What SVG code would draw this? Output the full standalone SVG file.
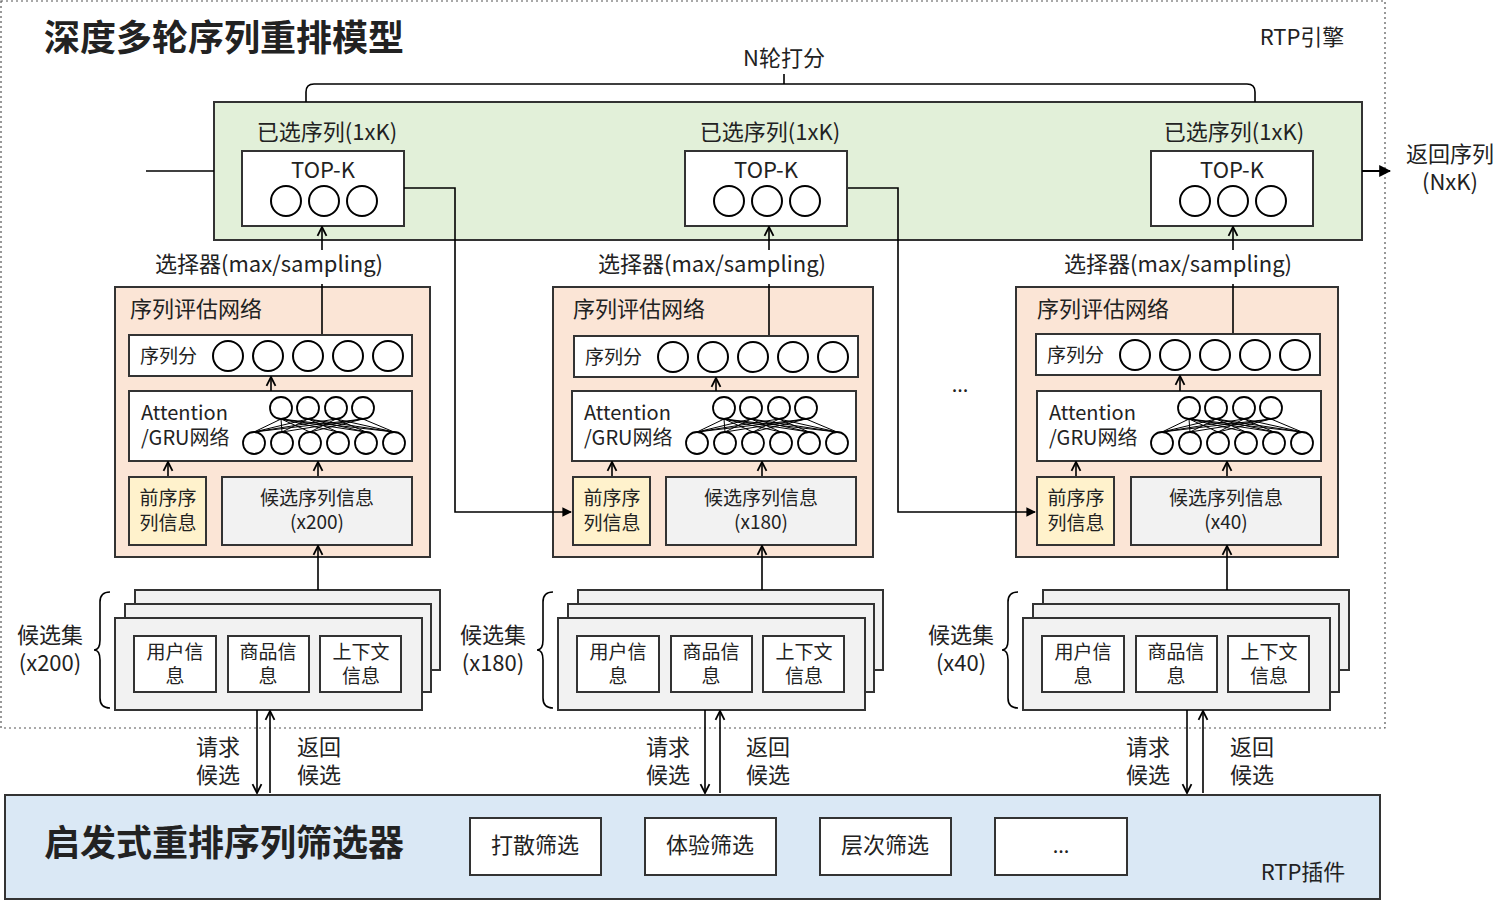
<svg xmlns="http://www.w3.org/2000/svg" width="1512" height="901" viewBox="0 0 1512 901">
<defs>
<marker id="ah" viewBox="0 0 10 10" refX="9" refY="5" markerWidth="7" markerHeight="7" orient="auto"><path d="M1,1 L9,5 L1,9" fill="none" stroke="#000" stroke-width="1.6"/></marker>
<marker id="ahf" viewBox="0 0 10 10" refX="9" refY="5" markerWidth="6" markerHeight="6" orient="auto"><path d="M0,0 L10,5 L0,10 z" fill="#000"/></marker>
</defs>
<style>
text{font-family:"Noto Sans CJK SC","Noto Sans",sans-serif;fill:#222}
.b{stroke:#333;stroke-width:2}
.c{fill:none;stroke:#000;stroke-width:2}
.cw{fill:#fff;stroke:#000;stroke-width:1.8}
.l{fill:none;stroke:#000;stroke-width:1.6}
.la{fill:none;stroke:#000;stroke-width:1.6;marker-end:url(#ah)}
.t22{font-size:22px}.t20{font-size:20px}.t19{font-size:19px}
.m{text-anchor:middle}
</style>
<rect width="1512" height="901" fill="#fff"/>
<rect x="1" y="1" width="1384" height="727" fill="none" stroke="#555" stroke-width="1.2" stroke-dasharray="2,3"/>
<text x="44" y="51" font-size="36" font-weight="bold">深度多轮序列重排模型</text>
<text x="1302" y="45" class="t22 m">RTP引擎</text>
<g id="rounds"><rect x="214" y="102" width="1148" height="138" fill="#e2f0d9" class="b"/></g>
<text x="784" y="66" class="t22 m">N轮打分</text>
<text x="1450" y="162" class="t22 m">返回序列</text>
<text x="1450" y="190" class="t22 m">(NxK)</text>
<text x="960" y="392" class="t20 m">...</text>

<g id="col1">
<g id="topk1"><text x="327" y="140" class="t22 m">已选序列(1xK)</text><rect x="242" y="151" width="162" height="75" fill="#fff" class="b"/><text x="323" y="178" class="t22 m">TOP-K</text><circle cx="286" cy="201" r="15" class="c"/><circle cx="324" cy="201" r="15" class="c"/><circle cx="362" cy="201" r="15" class="c"/></g>
<text x="269" y="272" class="t22 m">选择器(max/sampling)</text>
<g id="eval1"><rect x="115" y="287" width="315" height="270" fill="#fbe5d6" class="b"/>
<text x="130" y="317" class="t22">序列评估网络</text>
<rect x="129" y="335" width="283" height="41" fill="#fff" class="b"/><text x="140" y="363" class="t19">序列分</text>
<g class="c"><circle cx="228" cy="356" r="15"/><circle cx="268" cy="356" r="15"/><circle cx="308" cy="356" r="15"/><circle cx="348" cy="356" r="15"/><circle cx="388" cy="356" r="15"/></g>
<rect x="129" y="391" width="283" height="70" fill="#fff" class="b"/><text x="141" y="420" class="t20">Attention</text><text x="141" y="445" class="t20">/GRU网络</text>
<path stroke="#000" stroke-width="1" d="M281,419L254,432M281,419L282,432M281,419L310,432M281,419L338,432M281,419L366,432M281,419L394,432M308,419L254,432M308,419L282,432M308,419L338,432M308,419L366,432M308,419L394,432M336,419L254,432M336,419L310,432M336,419L366,432M336,419L394,432M363,419L254,432M363,419L282,432M363,419L310,432M363,419L394,432"/>
<g class="cw"><circle cx="281" cy="408" r="11"/><circle cx="308" cy="408" r="11"/><circle cx="336" cy="408" r="11"/><circle cx="363" cy="408" r="11"/><circle cx="254" cy="443" r="11"/><circle cx="282" cy="443" r="11"/><circle cx="310" cy="443" r="11"/><circle cx="338" cy="443" r="11"/><circle cx="366" cy="443" r="11"/><circle cx="394" cy="443" r="11"/></g>
<rect x="129" y="477" width="77" height="68" fill="#fff2cc" class="b"/><text x="168" y="505" class="t19 m">前序序</text><text x="168" y="530" class="t19 m">列信息</text>
<rect x="222" y="477" width="190" height="68" fill="#f2f2f2" class="b"/><text x="317" y="505" class="t19 m">候选序列信息</text><text x="317" y="529" class="t19 m">(x200)</text>
</g>
<g id="cands1"><rect x="135" y="590" width="305" height="80" fill="#f2f2f2" class="b"/><rect x="125" y="604" width="306" height="88" fill="#f2f2f2" class="b"/><rect x="115" y="618" width="307" height="92" fill="#f2f2f2" class="b"/>
<rect x="134" y="636" width="82" height="56" fill="#fff" class="b"/><rect x="228" y="636" width="81" height="56" fill="#fff" class="b"/><rect x="320" y="636" width="81" height="56" fill="#fff" class="b"/>
<text x="175" y="659" class="t19 m">用户信</text><text x="175" y="683" class="t19 m">息</text><text x="268" y="659" class="t19 m">商品信</text><text x="268" y="683" class="t19 m">息</text><text x="361" y="659" class="t19 m">上下文</text><text x="361" y="683" class="t19 m">信息</text>
<path class="l" d="M110,592 Q100,592 100,602 V640 Q100,650 94,650 Q100,650 100,660 V698 Q100,708 110,708"/>
<text x="50" y="643" class="t22 m">候选集</text><text x="50" y="671" class="t22 m">(x200)</text></g>
<g class="connectors">
<path class="l" d="M322,334 V284"/><path class="la" d="M322,250 V227"/><path class="la" d="M271,391 V377"/><path class="la" d="M168,476 V462"/><path class="la" d="M318,476 V462"/><path class="la" d="M318,590 V546"/>
<path class="la" d="M257,710 V793"/><path class="la" d="M270,793 V711"/></g>
<text x="218" y="755" class="t22 m">请求</text><text x="218" y="783" class="t22 m">候选</text><text x="319" y="755" class="t22 m">返回</text><text x="319" y="783" class="t22 m">候选</text>
</g>

<g id="col2" transform="translate(443,0)">
<g id="topk2"><text x="327" y="140" class="t22 m">已选序列(1xK)</text><rect x="242" y="151" width="162" height="75" fill="#fff" class="b"/><text x="323" y="178" class="t22 m">TOP-K</text><circle cx="286" cy="201" r="15" class="c"/><circle cx="324" cy="201" r="15" class="c"/><circle cx="362" cy="201" r="15" class="c"/></g>
<text x="269" y="272" class="t22 m">选择器(max/sampling)</text>
<g id="eval2"><rect x="110" y="287" width="320" height="270" fill="#fbe5d6" class="b"/>
<text x="130" y="317" class="t22">序列评估网络</text>
<rect x="131" y="336" width="284" height="41" fill="#fff" class="b"/><text x="142" y="364" class="t19">序列分</text>
<g class="c"><circle cx="230" cy="357" r="15"/><circle cx="270" cy="357" r="15"/><circle cx="310" cy="357" r="15"/><circle cx="350" cy="357" r="15"/><circle cx="390" cy="357" r="15"/></g>
<rect x="129" y="391" width="284" height="70" fill="#fff" class="b"/><text x="141" y="420" class="t20">Attention</text><text x="141" y="445" class="t20">/GRU网络</text>
<path stroke="#000" stroke-width="1" d="M281,419L254,432M281,419L282,432M281,419L310,432M281,419L338,432M281,419L366,432M281,419L394,432M308,419L254,432M308,419L282,432M308,419L338,432M308,419L366,432M308,419L394,432M336,419L254,432M336,419L310,432M336,419L366,432M336,419L394,432M363,419L254,432M363,419L282,432M363,419L310,432M363,419L394,432"/>
<g class="cw"><circle cx="281" cy="408" r="11"/><circle cx="308" cy="408" r="11"/><circle cx="336" cy="408" r="11"/><circle cx="363" cy="408" r="11"/><circle cx="254" cy="443" r="11"/><circle cx="282" cy="443" r="11"/><circle cx="310" cy="443" r="11"/><circle cx="338" cy="443" r="11"/><circle cx="366" cy="443" r="11"/><circle cx="394" cy="443" r="11"/></g>
<rect x="130" y="477" width="77" height="68" fill="#fff2cc" class="b"/><text x="169" y="505" class="t19 m">前序序</text><text x="169" y="530" class="t19 m">列信息</text>
<rect x="223" y="477" width="190" height="68" fill="#f2f2f2" class="b"/><text x="318" y="505" class="t19 m">候选序列信息</text><text x="318" y="529" class="t19 m">(x180)</text>
</g>
<g id="cands2"><rect x="135" y="590" width="305" height="80" fill="#f2f2f2" class="b"/><rect x="125" y="604" width="306" height="88" fill="#f2f2f2" class="b"/><rect x="115" y="618" width="307" height="92" fill="#f2f2f2" class="b"/>
<rect x="134" y="636" width="82" height="56" fill="#fff" class="b"/><rect x="228" y="636" width="81" height="56" fill="#fff" class="b"/><rect x="320" y="636" width="81" height="56" fill="#fff" class="b"/>
<text x="175" y="659" class="t19 m">用户信</text><text x="175" y="683" class="t19 m">息</text><text x="268" y="659" class="t19 m">商品信</text><text x="268" y="683" class="t19 m">息</text><text x="361" y="659" class="t19 m">上下文</text><text x="361" y="683" class="t19 m">信息</text>
<path class="l" d="M110,592 Q100,592 100,602 V640 Q100,650 94,650 Q100,650 100,660 V698 Q100,708 110,708"/>
<text x="50" y="643" class="t22 m">候选集</text><text x="50" y="671" class="t22 m">(x180)</text></g>
<g class="connectors">
<path class="l" d="M326,335 V284"/><path class="la" d="M326,250 V227"/><path class="la" d="M273,391 V378"/><path class="la" d="M169,476 V462"/><path class="la" d="M319,476 V462"/><path class="la" d="M319,590 V546"/>
<path class="la" d="M262,710 V793"/><path class="la" d="M277,793 V711"/></g>
<text x="225" y="755" class="t22 m">请求</text><text x="225" y="783" class="t22 m">候选</text><text x="325" y="755" class="t22 m">返回</text><text x="325" y="783" class="t22 m">候选</text>
</g>

<g id="col3" transform="translate(907,0)">
<g id="topk3"><text x="327" y="140" class="t22 m">已选序列(1xK)</text><rect x="244" y="151" width="162" height="75" fill="#fff" class="b"/><text x="325" y="178" class="t22 m">TOP-K</text><circle cx="288" cy="201" r="15" class="c"/><circle cx="326" cy="201" r="15" class="c"/><circle cx="364" cy="201" r="15" class="c"/></g>
<text x="271" y="272" class="t22 m">选择器(max/sampling)</text>
<g id="eval3"><rect x="109" y="287" width="322" height="270" fill="#fbe5d6" class="b"/>
<text x="130" y="317" class="t22">序列评估网络</text>
<rect x="129" y="334" width="284" height="41" fill="#fff" class="b"/><text x="140" y="362" class="t19">序列分</text>
<g class="c"><circle cx="228" cy="355" r="15"/><circle cx="268" cy="355" r="15"/><circle cx="308" cy="355" r="15"/><circle cx="348" cy="355" r="15"/><circle cx="388" cy="355" r="15"/></g>
<rect x="130" y="391" width="284" height="70" fill="#fff" class="b"/><text x="142" y="420" class="t20">Attention</text><text x="142" y="445" class="t20">/GRU网络</text>
<path stroke="#000" stroke-width="1" d="M282,419L255,432M282,419L283,432M282,419L311,432M282,419L339,432M282,419L367,432M282,419L395,432M309,419L255,432M309,419L283,432M309,419L339,432M309,419L367,432M309,419L395,432M337,419L255,432M337,419L311,432M337,419L367,432M337,419L395,432M364,419L255,432M364,419L283,432M364,419L311,432M364,419L395,432"/>
<g class="cw"><circle cx="282" cy="408" r="11"/><circle cx="309" cy="408" r="11"/><circle cx="337" cy="408" r="11"/><circle cx="364" cy="408" r="11"/><circle cx="255" cy="443" r="11"/><circle cx="283" cy="443" r="11"/><circle cx="311" cy="443" r="11"/><circle cx="339" cy="443" r="11"/><circle cx="367" cy="443" r="11"/><circle cx="395" cy="443" r="11"/></g>
<rect x="130" y="477" width="77" height="68" fill="#fff2cc" class="b"/><text x="169" y="505" class="t19 m">前序序</text><text x="169" y="530" class="t19 m">列信息</text>
<rect x="224" y="477" width="190" height="68" fill="#f2f2f2" class="b"/><text x="319" y="505" class="t19 m">候选序列信息</text><text x="319" y="529" class="t19 m">(x40)</text>
</g>
<g id="cands3"><rect x="136" y="590" width="306" height="80" fill="#f2f2f2" class="b"/><rect x="126" y="604" width="306" height="88" fill="#f2f2f2" class="b"/><rect x="116" y="618" width="307" height="92" fill="#f2f2f2" class="b"/>
<rect x="135" y="636" width="82" height="56" fill="#fff" class="b"/><rect x="229" y="636" width="81" height="56" fill="#fff" class="b"/><rect x="321" y="636" width="81" height="56" fill="#fff" class="b"/>
<text x="176" y="659" class="t19 m">用户信</text><text x="176" y="683" class="t19 m">息</text><text x="269" y="659" class="t19 m">商品信</text><text x="269" y="683" class="t19 m">息</text><text x="362" y="659" class="t19 m">上下文</text><text x="362" y="683" class="t19 m">信息</text>
<path class="l" d="M111,592 Q101,592 101,602 V640 Q101,650 95,650 Q101,650 101,660 V698 Q101,708 111,708"/>
<text x="54" y="643" class="t22 m">候选集</text><text x="54" y="671" class="t22 m">(x40)</text></g>
<g class="connectors">
<path class="l" d="M326,333 V284"/><path class="la" d="M326,250 V227"/><path class="la" d="M273,391 V376"/><path class="la" d="M169,476 V462"/><path class="la" d="M320,476 V462"/><path class="la" d="M320,590 V546"/>
<path class="la" d="M280,710 V793"/><path class="la" d="M296,793 V711"/></g>
<text x="241" y="755" class="t22 m">请求</text><text x="241" y="783" class="t22 m">候选</text><text x="345" y="755" class="t22 m">返回</text><text x="345" y="783" class="t22 m">候选</text>
</g>

<g id="plugin"><rect x="5" y="795" width="1375" height="104" fill="#dae8f5" class="b"/>
<text x="44" y="856" font-size="36" font-weight="bold">启发式重排序列筛选器</text>
<text x="1303" y="880" class="t22 m">RTP插件</text></g>
<g id="f1"><rect x="470" y="818" width="131" height="57" fill="#fff" class="b"/><text x="535" y="853" class="t22 m">打散筛选</text></g>
<g id="f2"><rect x="645" y="818" width="131" height="57" fill="#fff" class="b"/><text x="710" y="853" class="t22 m">体验筛选</text></g>
<g id="f3"><rect x="820" y="818" width="131" height="57" fill="#fff" class="b"/><text x="885" y="853" class="t22 m">层次筛选</text></g>
<g id="f4"><rect x="995" y="818" width="132" height="57" fill="#fff" class="b"/><text x="1061" y="853" class="t20 m">...</text></g>

<g id="connectors">
<path class="l" d="M306,102 V92 Q306,84 314,84 H1247 Q1255,84 1255,92 V102 M784,84 V74"/>
<line x1="146" y1="171" x2="214" y2="171" class="l"/>
<line x1="1362" y1="171" x2="1390" y2="171" stroke="#000" stroke-width="2" marker-end="url(#ahf)"/>
<path class="l" d="M404,188 H455 V512 H571" marker-end="url(#ahf)"/>
<path class="l" d="M848,188 H898 V512 H1035" marker-end="url(#ahf)"/>
</g>
</svg>
